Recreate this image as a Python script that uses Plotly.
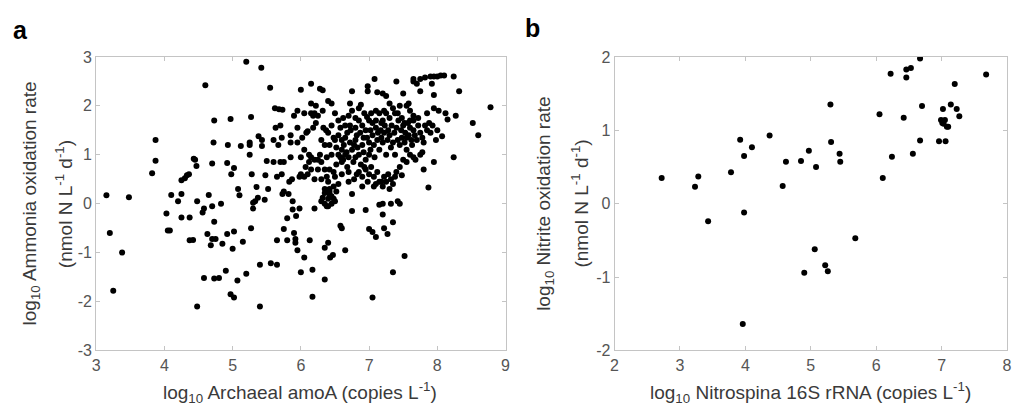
import plotly.graph_objects as go

# ---------- Panel a: Archaeal amoA vs ammonia oxidation rate ----------
amoa_pts = [
    (3.15, 0.17), (3.2, -0.6), (3.25, -1.78), (3.38, -1.0), (3.48, 0.13), (3.82, 0.62),
    (3.87, 0.88), (3.87, 1.3), (4.03, -0.2), (4.05, -0.55), (4.08, -0.55), (4.1, 0.18),
    (4.2, 0.05), (4.25, 0.2), (4.25, -0.28), (4.25, 0.48), (4.3, 0.52), (4.33, 0.58),
    (4.36, 0.6), (4.37, -0.28), (4.37, -0.75), (4.42, -0.74), (4.43, 0.92), (4.45, 0.9),
    (4.47, 0.77), (4.48, 0.05), (4.48, -2.1), (4.56, -0.18), (4.58, -0.1), (4.58, -1.52),
    (4.6, 2.42), (4.63, -0.62), (4.65, 0.18), (4.68, -0.85), (4.7, -0.72), (4.7, -0.05),
    (4.7, 0.82), (4.72, 1.25), (4.73, 1.7), (4.73, -0.37), (4.75, -0.72), (4.73, -1.53),
    (4.8, -1.52), (4.83, 0.0), (4.85, -0.82), (4.9, -1.37), (4.92, -0.62), (4.92, 0.83),
    (4.93, 1.2), (4.97, 1.73), (4.97, -1.85), (4.98, 0.6), (5.0, -0.92), (5.02, -0.57),
    (5.02, -1.92), (5.02, 0.73), (5.07, -1.57), (5.08, 0.3), (5.1, 0.17), (5.12, 1.18),
    (5.15, -0.78), (5.2, 2.9), (5.2, -1.43), (5.25, 1.25), (5.25, 1.0), (5.25, 1.2),
    (5.27, 1.77), (5.27, -0.5), (5.28, 0.6), (5.3, 0.02), (5.3, -0.1), (5.33, 0.05),
    (5.35, 0.34), (5.37, 0.12), (5.38, 1.38), (5.4, -1.25), (5.4, -2.1), (5.42, 2.78),
    (5.43, 1.3), (5.43, 1.18), (5.47, 0.08), (5.48, 0.58), (5.5, 0.87), (5.52, 0.3),
    (5.55, 2.37), (5.56, -1.22), (5.6, 1.3), (5.6, 0.85), (5.62, 1.95), (5.63, 1.55),
    (5.65, -1.25), (5.65, -0.75), (5.65, 0.55), (5.67, 1.2), (5.68, 1.93), (5.7, 1.6),
    (5.7, 0.85), (5.72, 1.35), (5.72, 0.6), (5.73, 1.92), (5.73, 0.2), (5.75, 0.85),
    (5.75, 0.25), (5.75, -0.52), (5.8, -0.3), (5.8, -0.75), (5.82, 0.2), (5.83, 0.45),
    (5.85, 1.4), (5.85, 1.25), (5.85, 0.95), (5.87, 0.5), (5.88, 0.05), (5.88, -0.12),
    (5.9, 1.8), (5.9, -0.6), (5.92, -0.72), (5.92, -0.8), (5.93, -0.25), (5.95, 1.9),
    (5.95, 1.55), (5.95, -0.95), (5.98, 0.55), (5.98, -0.1), (6.0, -1.4), (6.0, 2.33),
    (6.02, 1.35), (6.05, 1.85), (6.05, 1.1), (6.07, 0.75), (6.05, -1.1), (6.1, 1.48),
    (6.1, 0.6), (6.12, 0.85), (6.13, -0.75), (6.15, 2.45), (6.15, 2.05), (6.15, 1.85),
    (6.15, 0.95), (6.17, -1.35), (6.17, -1.9), (6.18, 1.8), (6.2, 0.9), (6.2, 0.5),
    (6.2, -0.1), (6.22, 1.65), (6.22, 2.0), (6.25, 1.8), (6.25, 0.7), (6.28, 2.35),
    (6.3, 1.3), (6.3, 0.05), (6.32, 1.9), (6.32, 2.32), (6.35, 0.3), (6.35, -0.9),
    (6.35, -1.55), (6.37, 1.5), (6.38, 0.55), (6.4, 2.1), (6.4, -0.8), (6.42, 1.2),
    (6.42, 0.2), (6.43, -1.1), (6.45, 2.05), (6.45, 1.0), (6.47, -1.05), (6.48, 0.65),
    (6.5, 0.05), (6.5, 1.85), (6.5, 1.3), (6.52, 0.25), (6.55, 1.7), (6.58, -0.45),
    (6.6, 0.85), (6.6, -0.5), (6.62, 1.75), (6.65, 1.35), (6.65, 1.0), (6.65, -0.95),
    (6.68, 0.75), (6.7, 0.45), (6.72, 1.6), (6.72, 2.05), (6.75, 2.3), (6.75, 0.2),
    (6.75, -0.15), (6.78, 1.2), (6.8, 0.95), (6.8, 1.75), (6.82, 0.6), (6.85, 1.95),
    (6.87, 1.45), (6.88, 2.02), (6.9, 0.35), (6.92, 1.35), (6.93, 0.75), (6.95, -0.13),
    (6.97, 1.77), (6.98, 2.4), (6.98, 2.3), (7.0, 1.0), (7.0, -0.52), (7.02, 1.5),
    (7.05, -1.92), (7.05, -0.58), (7.07, 0.35), (7.08, 2.55), (7.1, 1.7), (7.1, -0.68),
    (7.12, 2.28), (7.15, 0.45), (7.15, -0.02), (7.18, 1.65), (7.2, 2.25), (7.2, -0.22),
    (7.2, 0.0), (7.22, -0.5), (7.25, 2.2), (7.25, 1.85), (7.27, -0.62), (7.3, 0.3),
    (7.3, 2.05), (7.32, 0.0), (7.35, -1.4), (7.35, -0.38), (7.38, 1.85), (7.4, 2.5),
    (7.42, 0.05), (7.45, 0.0), (7.45, 2.0), (7.48, 0.58), (7.5, 2.25), (7.52, -1.07),
    (7.55, 1.35), (7.58, 2.05), (7.6, 1.9), (7.65, 2.5), (7.65, 2.55), (7.65, 1.8),
    (7.65, 0.95), (7.7, 2.45), (7.72, 1.75), (7.75, 2.3), (7.75, 2.55), (7.78, 1.05),
    (7.8, 0.7), (7.82, 2.58), (7.85, 1.85), (7.87, 0.33), (7.9, 2.6), (7.92, 2.45),
    (7.95, 2.22), (7.95, 2.6), (7.95, 1.95), (7.95, 0.85), (7.98, 1.3), (8.0, 2.6),
    (8.0, 1.5), (8.02, 1.9), (8.05, 2.62), (8.07, 1.38), (8.1, 2.62), (8.12, 1.85),
    (8.15, 1.72), (8.24, 2.6), (8.24, 0.95), (8.27, 1.8), (8.32, 2.3), (8.52, 1.65),
    (8.6, 1.4), (8.78, 1.97),
    # dense cluster
    (6.55, 1.0), (6.58, 0.95), (6.6, 1.1), (6.62, 0.9), (6.63, 1.2), (6.67, 1.05),
    (6.7, 0.95), (6.72, 1.25), (6.75, 1.1), (6.77, 0.85), (6.8, 1.3), (6.83, 1.15),
    (6.85, 1.0), (6.88, 0.8), (6.9, 1.2), (6.92, 1.05), (6.95, 0.9), (6.97, 1.35),
    (7.0, 1.25), (7.02, 1.1), (7.05, 1.4), (7.07, 1.2), (7.08, 0.95), (7.1, 1.55),
    (7.12, 1.3), (7.13, 1.45), (7.15, 1.1), (7.17, 1.5), (7.18, 1.35), (7.2, 1.25),
    (7.22, 1.45), (7.23, 1.6), (7.25, 1.0), (7.27, 1.3), (7.28, 1.5), (7.3, 1.4),
    (7.32, 1.15), (7.33, 1.6), (7.35, 1.25), (7.37, 1.45), (7.38, 1.0), (7.4, 1.55),
    (7.42, 1.3), (7.43, 1.7), (7.45, 1.2), (7.47, 1.5), (7.48, 1.35), (7.5, 1.6),
    (7.52, 1.25), (7.53, 1.45), (7.55, 1.1), (7.57, 1.65), (7.58, 1.4), (7.6, 1.55),
    (7.62, 1.3), (7.63, 1.2), (7.65, 1.5), (7.67, 1.4), (7.7, 1.3), (7.72, 1.6),
    (7.75, 1.45), (7.78, 1.35), (7.8, 1.25), (7.82, 1.6), (7.85, 1.5), (7.88, 1.65),
    (7.9, 1.45), (7.93, 1.6),
    (6.3, 0.5), (6.35, 0.7), (6.4, 0.45), (6.42, 0.3), (6.45, 0.15), (6.48, 0.35),
    (6.5, 0.55), (6.52, 0.8), (6.55, 0.4), (6.6, 0.6), (6.7, 0.65), (6.78, 0.5),
    (6.85, 0.65), (6.9, 0.55), (6.95, 0.7), (6.98, 0.45), (7.0, 0.6), (7.03, 0.75),
    (7.07, 0.55), (7.1, 0.4), (7.12, 0.65), (7.18, 0.45), (7.2, 0.35), (7.22, 0.55),
    (7.25, 0.45), (7.28, 0.6), (7.32, 0.5), (7.35, 0.4), (7.38, 0.55), (7.4, 0.65),
    (7.45, 0.75), (7.5, 0.9), (7.55, 0.85), (7.6, 1.0), (7.68, 0.9), (7.75, 1.0),
    (5.95, 1.25), (6.0, 0.95), (6.0, 0.6), (6.05, 0.55), (6.08, 1.45), (6.12, 1.0),
    (6.15, 0.7), (6.18, 1.55), (6.2, 1.85), (6.25, 0.9), (6.28, 1.0), (6.3, 0.85),
    (6.33, 1.55), (6.35, 1.2), (6.38, 0.95), (6.4, 1.45), (6.42, 0.7), (6.45, 1.6),
    (6.48, 1.35), (6.52, 1.15), (6.55, 1.4), (6.58, 1.55), (6.6, 1.3), (6.65, 1.6),
    (6.68, 1.45), (6.7, 1.8), (6.73, 1.5), (6.75, 1.9), (6.8, 1.55), (6.82, 1.4),
    (6.85, 1.7), (6.9, 1.6), (6.93, 1.85), (6.95, 1.5), (7.0, 1.7), (7.03, 1.85),
    (7.05, 1.65), (7.1, 1.9), (7.15, 1.85), (7.2, 1.7), (7.22, 1.9), (7.3, 1.75),
    (7.35, 1.95), (7.42, 1.85), (7.48, 1.75), (7.52, 1.65), (7.55, 2.0), (7.6, 1.7),
    (7.65, 1.7),
    (6.32, 0.12), (6.35, 0.0), (6.38, -0.05), (6.4, 0.1), (6.42, 0.25), (6.45, 0.0),
    (6.48, 0.1), (6.35, 0.22), (6.4, -0.05),
]
amoa_log = [p[0] for p in amoa_pts]
aox_rate_log = [p[1] for p in amoa_pts]

# ---------- Panel b: Nitrospina 16S rRNA vs nitrite oxidation rate ----------
nitrospina_log = [2.72, 3.23, 3.28, 3.43, 3.78, 3.92, 3.98, 3.98, 3.96, 4.10, 4.37, 4.57,
                  4.62, 4.85, 4.90, 4.97, 5.06, 5.08, 5.22, 5.26, 5.30, 5.31, 5.44, 5.45,
                  5.68, 6.05, 6.10, 6.22, 6.24, 6.42, 6.46, 6.46, 6.53, 6.56, 6.67, 6.67,
                  6.70, 6.96, 6.99, 7.01, 7.02, 7.05, 7.06, 7.08, 7.10, 7.03, 7.14, 7.20,
                  7.23, 7.27, 7.68]
nox_rate_log = [0.35, 0.23, 0.37, -0.24, 0.43, 0.87, 0.65, -0.12, -1.64, 0.77, 0.93, 0.24,
                0.57, 0.58, -0.94, 0.72, -0.62, 0.50, -0.84, -0.92, 1.35, 0.84, 0.68, 0.57,
                -0.47, 1.22, 0.35, 1.77, 0.64, 1.17, 1.72, 1.83, 1.85, 0.68, 1.98, 0.86,
                1.33, 0.85, 1.14, 1.10, 1.29, 1.14, 0.85, 1.05, 1.05, 1.09, 1.35, 1.63,
                1.29, 1.19, 1.76]

xa_ticks = [3, 4, 5, 6, 7, 8, 9]
ya_ticks = [-3, -2, -1, 0, 1, 2, 3]
ya_ticktext = ["-3", "-2", "-1", "0", "1", "2", "3"]
xb_ticks = [2, 3, 4, 5, 6, 7, 8]
yb_ticks = [-2, -1, 0, 1, 2]
yb_ticktext = ["-2", "-1", "0", "1", "2"]

W, H = 1019, 417
FONT = "Liberation Sans, Arial, Helvetica, sans-serif"
TICKC = "#555555"
TITLEC = "#3a3a3a"
LINEC = "#c4c4c4"

fig = go.Figure()
fig.add_trace(go.Scatter(x=amoa_log, y=aox_rate_log, mode="markers",
                         marker=dict(color="black", size=6), xaxis="x", yaxis="y",
                         showlegend=False, hoverinfo="skip"))
fig.add_trace(go.Scatter(x=nitrospina_log, y=nox_rate_log, mode="markers",
                         marker=dict(color="black", size=6), xaxis="x2", yaxis="y2",
                         showlegend=False, hoverinfo="skip"))

def ax(domain, rng, tickvals, ticktext, anchor):
    return dict(domain=domain, range=rng, tickvals=tickvals, ticktext=ticktext,
                showgrid=False, zeroline=False, showline=True, linecolor=LINEC,
                linewidth=1, mirror="ticks", ticks="inside", ticklen=4,
                tickcolor=LINEC, tickfont=dict(family=FONT, size=16, color=TICKC),
                anchor=anchor)

ydom = [1 - 357 / H, 1 - 51 / H]
fig.update_layout(
    width=W, height=H, margin=dict(l=0, r=0, t=0, b=0),
    paper_bgcolor="white", plot_bgcolor="white",
    xaxis=ax([93 / W, 506 / W], [3, 9], xa_ticks, [str(v) for v in xa_ticks], "y"),
    yaxis=ax(ydom, [-3, 3], ya_ticks, ya_ticktext, "x"),
    xaxis2=ax([616 / W, 1012 / W], [2, 8], xb_ticks, [str(v) for v in xb_ticks], "y2"),
    yaxis2=ax(ydom, [-2, 2], yb_ticks, yb_ticktext, "x2"),
)

def ann(text, x, y, size, angle=0, bold=False, color=TITLEC):
    fig.add_annotation(text=f"<b>{text}</b>" if bold else text,
                       xref="paper", yref="paper", x=x / W, y=1 - y / H,
                       xanchor="center", yanchor="middle", showarrow=False,
                       textangle=angle, font=dict(family=FONT, size=size, color=color))

ann("a", 17, 23, 25, bold=True, color="black")
ann("b", 533, 21, 25, bold=True, color="black")
ann("log<sub>10</sub> Archaeal amoA (copies L<sup>-1</sup>)", 299, 401, 19)
ann("log<sub>10</sub> Nitrospina 16S rRNA (copies L<sup>-1</sup>)", 814, 401, 19)
ann("log<sub>10</sub> Ammonia oxidation rate", 27, 204, 19, angle=-90)
ann("(nmol N L<sup>-1</sup> d<sup>-1</sup>)", 60, 204, 19, angle=-90)
ann("log<sub>10</sub> Nitrite oxidation rate", 546, 204, 19, angle=-90)
ann("(nmol N L<sup>-1</sup> d<sup>-1</sup>)", 581, 204, 19, angle=-90)

fig.write_html("out.html")
